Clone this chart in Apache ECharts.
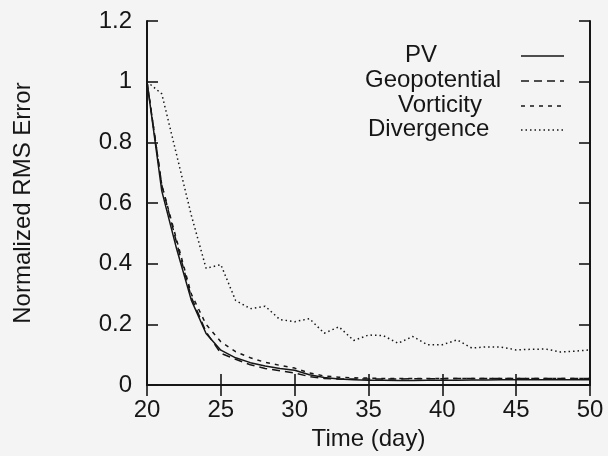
<!DOCTYPE html>
<html>
<head>
<meta charset="utf-8">
<script src="https://cdn.jsdelivr.net/npm/echarts@6/dist/echarts.min.js"></script>
<style>
  html, body { margin: 0; padding: 0; background: #f4f4f4; }
  #chart { width: 608px; height: 456px; }
</style>
</head>
<body>
<div id="chart"></div>
<script>
// Time axis (days) and normalized RMS error of each field
const days = [20,21,22,23,24,25,26,27,28,29,30,31,32,33,34,35,36,37,38,39,40,41,42,43,44,45,46,47,48,49,50];
const pv = [1.0,0.64,0.45,0.28,0.17,0.115,0.09,0.074,0.063,0.055,0.049,0.034,0.025,0.02,0.018,0.016,0.016,0.015,0.015,0.016,0.016,0.016,0.017,0.017,0.018,0.018,0.018,0.018,0.018,0.018,0.018];
const geopotential = [1.0,0.66,0.47,0.29,0.175,0.105,0.085,0.067,0.055,0.047,0.04,0.028,0.022,0.02,0.02,0.02,0.02,0.02,0.021,0.021,0.021,0.022,0.022,0.022,0.022,0.022,0.022,0.022,0.022,0.022,0.022];
const vorticity = [1.0,0.66,0.48,0.3,0.2,0.143,0.11,0.09,0.075,0.065,0.056,0.04,0.03,0.026,0.024,0.023,0.022,0.022,0.022,0.022,0.022,0.022,0.022,0.022,0.022,0.022,0.022,0.022,0.022,0.022,0.022];
const divergence = [1.0,0.96,0.76,0.56,0.385,0.397,0.279,0.252,0.26,0.216,0.209,0.219,0.171,0.192,0.147,0.165,0.163,0.138,0.16,0.133,0.133,0.149,0.122,0.126,0.125,0.116,0.118,0.119,0.109,0.112,0.116];

const seriesNames = ['PV', 'Geopotential', 'Vorticity', 'Divergence'];
const seriesData = [pv, geopotential, vorticity, divergence];
const dashes = ['solid', [8, 5], [4, 5], [1.5, 3]];

const FONT = '"Liberation Sans", Arial, sans-serif';
const INK = '#161616';

const chart = echarts.init(document.getElementById('chart'), null, { renderer: 'canvas' });

function pairs(ys) { return days.map((d, i) => [d, ys[i]]); }

const frameLine = { show: true, lineStyle: { color: INK, width: 2 } };
const innerTick = { show: true, inside: true, length: 11, lineStyle: { color: INK, width: 1.6 } };

// Legend rows: label text and sample line, drawn as graphics
const legendRows = [
  { text: 'PV', x: 405, y: 56 },
  { text: 'Geopotential', x: 365, y: 81 },
  { text: 'Vorticity', x: 398, y: 106 },
  { text: 'Divergence', x: 368, y: 130 }
];
const legendGraphics = [];
legendRows.forEach((r, i) => {
  legendGraphics.push({
    type: 'text', left: r.x, top: r.y - 13, silent: true,
    style: { text: r.text, fill: INK, font: '24px ' + FONT }
  });
  legendGraphics.push({
    type: 'line', silent: true,
    shape: { x1: 521, y1: r.y, x2: 564, y2: r.y },
    style: { stroke: INK, lineWidth: 1.5, lineDash: dashes[i] === 'solid' ? null : dashes[i] }
  });
});

chart.setOption({
  backgroundColor: '#f4f4f4',
  animation: false,
  grid: { left: 147, top: 21, right: 18, bottom: 67 },
  xAxis: [
    {
      type: 'value', min: 20, max: 50, interval: 5,
      name: 'Time (day)', nameLocation: 'middle', nameGap: 38,
      nameTextStyle: { fontFamily: FONT, fontSize: 24, color: INK },
      axisLine: frameLine, axisTick: innerTick, splitLine: { show: false },
      axisLabel: { fontFamily: FONT, fontSize: 24, color: INK, margin: 13 }
    },
    {
      type: 'value', min: 20, max: 50, interval: 5, position: 'top',
      axisLine: frameLine, axisTick: innerTick, splitLine: { show: false },
      axisLabel: { show: false }
    }
  ],
  yAxis: [
    {
      type: 'value', min: 0, max: 1.2, interval: 0.2,
      name: 'Normalized RMS Error', nameLocation: 'middle', nameGap: 112, nameRotate: 90,
      nameTextStyle: { fontFamily: FONT, fontSize: 24, color: INK },
      axisLine: frameLine, axisTick: innerTick, splitLine: { show: false },
      axisLabel: { fontFamily: FONT, fontSize: 24, color: INK, margin: 15,
        formatter: v => String(Math.round(v * 10) / 10) }
    },
    {
      type: 'value', min: 0, max: 1.2, interval: 0.2, position: 'right',
      axisLine: frameLine, axisTick: innerTick, splitLine: { show: false },
      axisLabel: { show: false }
    }
  ],
  series: seriesNames.map((name, i) => ({
    name: name, type: 'line', xAxisIndex: 0, yAxisIndex: 0,
    data: pairs(seriesData[i]), symbol: 'none', smooth: false,
    lineStyle: { color: INK, width: 1.5, type: dashes[i] }
  })),
  graphic: legendGraphics
});
</script>
</body>
</html>
